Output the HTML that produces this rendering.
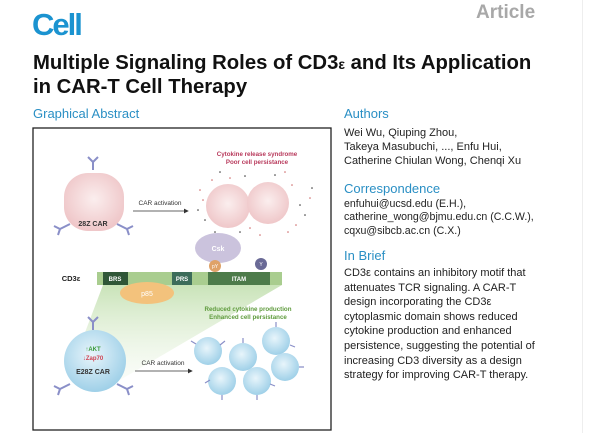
<!DOCTYPE html>
<html><head><meta charset="utf-8"><style>
html,body{margin:0;padding:0;background:#fff;width:600px;height:433px;overflow:hidden;position:relative;font-family:"Liberation Sans",Arial,sans-serif}
.a{position:absolute;white-space:nowrap}
.h{color:#2a8fc4;font-size:13px}
.t{color:#222;font-size:11px;line-height:14px}
</style></head><body>
<div class="a" style="left:32px;top:7px;font-size:31px;font-weight:bold;color:#1b93d0;letter-spacing:-2px">Cell</div>
<div class="a" style="left:476px;top:2px;font-size:19px;font-weight:bold;color:#a8a8a8">Article</div>
<div class="a" style="left:33px;top:52px;font-size:20.3px;font-weight:bold;color:#111;line-height:23px">Multiple Signaling Roles of CD3<span style="font-size:14px">ε</span> and Its Application<br>in CAR-T Cell Therapy</div>
<div class="a h" style="left:33px;top:106px">Graphical Abstract</div>
<div class="a h" style="left:344px;top:106px">Authors</div>
<div class="a t" style="left:344px;top:126px">Wei Wu, Qiuping Zhou,<br>Takeya Masubuchi, ..., Enfu Hui,<br>Catherine Chiulan Wong, Chenqi Xu</div>
<div class="a h" style="left:344px;top:181px">Correspondence</div>
<div class="a t" style="left:344px;top:198px;line-height:13.3px;font-size:10.6px">enfuhui@ucsd.edu (E.H.),<br>catherine_wong@bjmu.edu.cn (C.C.W.),<br>cqxu@sibcb.ac.cn (C.X.)</div>
<div class="a h" style="left:344px;top:248px">In Brief</div>
<div class="a t" style="left:344px;top:266px;line-height:14.6px">CD3ε contains an inhibitory motif that<br>attenuates TCR signaling. A CAR-T<br>design incorporating the CD3ε<br>cytoplasmic domain shows reduced<br>cytokine production and enhanced<br>persistence, suggesting the potential of<br>increasing CD3 diversity as a design<br>strategy for improving CAR-T therapy.</div>
<div class="a" style="left:582px;top:0;width:1px;height:433px;background:#eee"></div>
<svg class="a" style="left:0;top:0" width="600" height="433" font-family="Liberation Sans,Arial,sans-serif">
<defs>
<radialGradient id="pk" cx="50%" cy="45%" r="55%"><stop offset="0" stop-color="#fbeeee"/><stop offset="1" stop-color="#efc7c9"/></radialGradient>
<radialGradient id="bl" cx="45%" cy="40%" r="60%"><stop offset="0" stop-color="#e8f5fb"/><stop offset="1" stop-color="#9fd0e8"/></radialGradient>
<linearGradient id="gr" x1="0" y1="0" x2="0" y2="1"><stop offset="0" stop-color="#c9e3b8"/><stop offset="1" stop-color="#eef6e8" stop-opacity="0.3"/></linearGradient>
<marker id="ar" markerWidth="6" markerHeight="6" refX="5" refY="3" orient="auto"><path d="M0,0 L6,3 L0,6z" fill="#333"/></marker>
</defs>
<rect x="33" y="128" width="298" height="302" fill="#fff" stroke="#222" stroke-width="1.3"/>
<polygon points="103,285 282,285 120,380 70,372" fill="url(#gr)"/>
<rect x="64" y="173" width="60" height="58" rx="24" fill="url(#pk)"/>
<g stroke="#8a8fc8" stroke-width="2" fill="none">
<path d="M93,170 v-8 M93,162 l-5,-5 M93,162 l5,-5"/>
<path d="M70,224 l-10,5 M60,229 l-6,-3 M60,229 l-2,6"/>
<path d="M117,224 l10,5 M127,229 l6,-3 M127,229 l2,6"/>
</g>
<text x="93" y="226" font-size="7" font-weight="bold" text-anchor="middle" fill="#333">28Z CAR</text>
<line x1="133" y1="211" x2="188" y2="211" stroke="#333" stroke-width="0.8" marker-end="url(#ar)"/>
<text x="160" y="205" font-size="6.5" text-anchor="middle" fill="#333">CAR activation</text>
<text x="257" y="156" font-size="6.2" font-weight="bold" text-anchor="middle" fill="#b83a5c">Cytokine release syndrome</text>
<text x="257" y="164" font-size="6.2" font-weight="bold" text-anchor="middle" fill="#b83a5c">Poor cell persistance</text>
<g fill="#c66">
<circle cx="200" cy="190" r=".8"/><circle cx="205" cy="220" r=".8" fill="#333"/><circle cx="212" cy="180" r=".8"/><circle cx="245" cy="176" r=".8" fill="#333"/><circle cx="250" cy="228" r=".8"/><circle cx="292" cy="185" r=".8"/><circle cx="300" cy="205" r=".8" fill="#333"/><circle cx="310" cy="198" r=".8"/><circle cx="296" cy="225" r=".8"/><circle cx="198" cy="210" r=".8" fill="#333"/><circle cx="230" cy="178" r=".8"/><circle cx="275" cy="175" r=".8" fill="#333"/><circle cx="288" cy="232" r=".8"/><circle cx="215" cy="232" r=".8" fill="#333"/><circle cx="260" cy="235" r=".8"/><circle cx="305" cy="215" r=".8" fill="#333"/><circle cx="240" cy="232" r=".8" fill="#333"/><circle cx="203" cy="200" r=".8"/><circle cx="285" cy="172" r=".8"/><circle cx="220" cy="172" r=".8" fill="#333"/><circle cx="312" cy="188" r=".8" fill="#333"/>
</g>
<circle cx="228" cy="206" r="22" fill="url(#pk)"/>
<circle cx="268" cy="203" r="21" fill="url(#pk)"/>
<ellipse cx="218" cy="248" rx="23" ry="15" fill="#cbc3dd"/>
<text x="218" y="251" font-size="7" font-weight="bold" text-anchor="middle" fill="#fff">Csk</text>
<rect x="97" y="272" width="185" height="13" fill="#a9cd8f"/>
<rect x="103" y="272" width="25" height="13" fill="#2f5637"/>
<rect x="172" y="272" width="20" height="13" fill="#3c6c5a"/>
<rect x="208" y="272" width="62" height="13" fill="#4d7b4a"/>
<text x="115" y="281" font-size="6" font-weight="bold" text-anchor="middle" fill="#fff">BRS</text>
<text x="182" y="281" font-size="6" font-weight="bold" text-anchor="middle" fill="#fff">PRS</text>
<text x="239" y="281" font-size="6" font-weight="bold" text-anchor="middle" fill="#fff">ITAM</text>
<circle cx="215" cy="266" r="6" fill="#dfa268"/><text x="215" y="268" font-size="5" text-anchor="middle" fill="#fff">pY</text>
<circle cx="261" cy="264" r="6" fill="#6a6a96"/><text x="261" y="266" font-size="5" text-anchor="middle" fill="#fff">Y</text>
<text x="71" y="281" font-size="7.5" font-weight="bold" text-anchor="middle" fill="#222">CD3ε</text>
<ellipse cx="147" cy="293" rx="27" ry="11" fill="#f3c27c"/>
<text x="147" y="296" font-size="7" text-anchor="middle" fill="#fff">p85</text>
<text x="248" y="311" font-size="6.2" font-weight="bold" text-anchor="middle" fill="#5d9a3b">Reduced cytokine production</text>
<text x="248" y="319" font-size="6.2" font-weight="bold" text-anchor="middle" fill="#5d9a3b">Enhanced cell persistance</text>
<circle cx="95" cy="361" r="31" fill="url(#bl)"/>
<g stroke="#8a8fc8" stroke-width="2" fill="none">
<path d="M93,330 v-8 M93,322 l-5,-5 M93,322 l5,-5"/>
<path d="M70,384 l-10,5 M60,389 l-6,-3 M60,389 l-2,6"/>
<path d="M117,384 l10,5 M127,389 l6,-3 M127,389 l2,6"/>
</g>
<text x="93" y="351" font-size="6" font-weight="bold" text-anchor="middle" fill="#3a9a3a">↑AKT</text>
<text x="93" y="360" font-size="6" font-weight="bold" text-anchor="middle" fill="#d04050">↓Zap70</text>
<text x="93" y="374" font-size="7" font-weight="bold" text-anchor="middle" fill="#333">E28Z CAR</text>
<line x1="135" y1="371" x2="192" y2="371" stroke="#333" stroke-width="0.8" marker-end="url(#ar)"/>
<text x="163" y="365" font-size="6.5" text-anchor="middle" fill="#333">CAR activation</text>
<g fill="url(#bl)">
<circle cx="208" cy="351" r="14"/><circle cx="243" cy="357" r="14"/><circle cx="276" cy="341" r="14"/><circle cx="285" cy="367" r="14"/><circle cx="222" cy="381" r="14"/><circle cx="257" cy="381" r="14"/>
</g>
<g stroke="#8a8fc8" stroke-width="1.2">
<path d="M196,344 l-5,-3 M220,345 l5,-4 M243,343 v-5 M276,327 v-5 M290,345 l5,2 M299,367 l5,0 M222,395 v5 M257,395 v5 M210,380 l-5,3 M270,384 l5,2"/>
</g>
</svg>
</body></html>
